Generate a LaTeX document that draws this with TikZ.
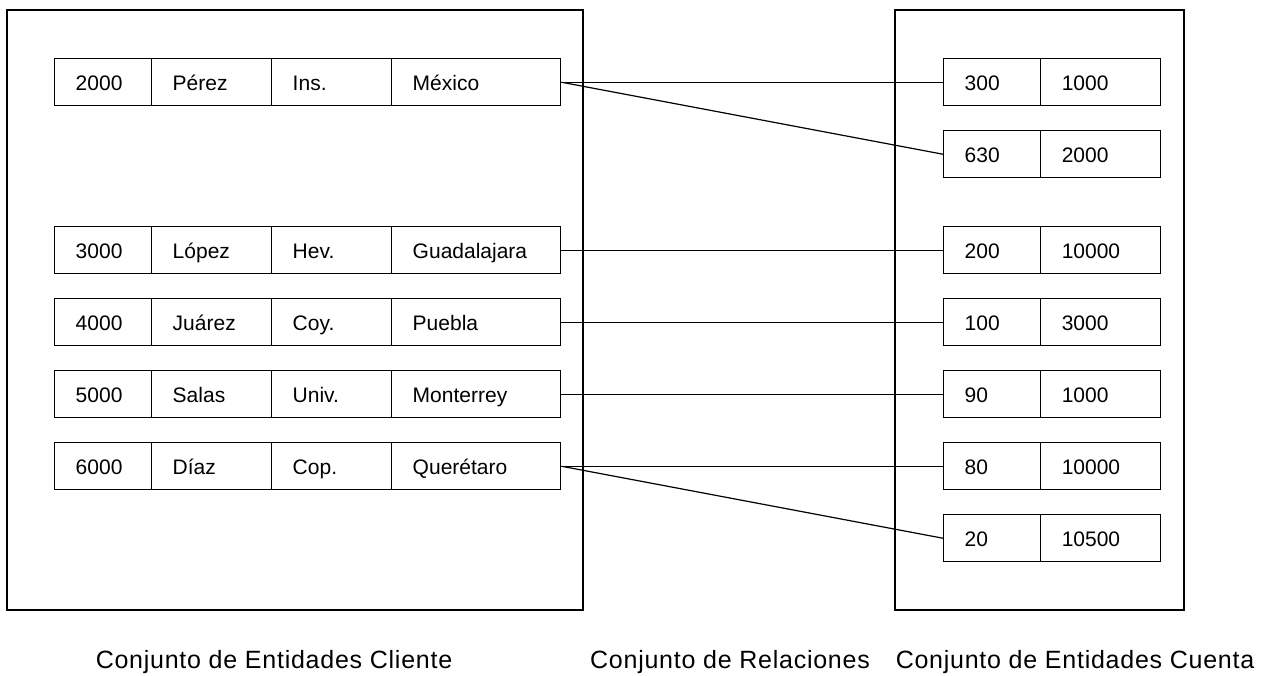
\documentclass[tikz,border=0pt]{standalone}
\usepackage{fontspec}
\setmainfont{Liberation Sans}
\newfontfamily\rotulofont[LetterSpace=3]{Liberation Sans}
\usetikzlibrary{positioning}

\begin{document}
\begin{tikzpicture}[x=0.75pt,y=-0.75pt,
  celda/.style={draw,line width=1.1pt,anchor=north west,minimum height=35.25pt,
    inner xsep=15.75pt,inner ysep=0pt,text height=12.75pt,text depth=0pt,align=left,
    font=\fontsize{15.75}{18}\selectfont},
  corta/.style={celda,text width=41.25pt},
  larga/.style={celda,text width=58.5pt},
  ciudad/.style={celda,text width=95.25pt},
  marco/.style={draw,line width=1.1pt},
  conector/.style={draw,line width=0.9pt},
  rotulo/.style={anchor=base,inner sep=0pt,font=\fontsize{18.75}{22}\rotulofont}]
  \useasboundingbox (0,0) rectangle (1262,675);
  % conjuntos de entidades
  \draw[marco] (7,10) rectangle (583,610);
  \draw[marco] (895,10) rectangle (1184,610);
  % clientes
  \foreach \fila/\y/\num/\nom/\dir/\ciu in {1/58/2000/Pérez/Ins./México,
      2/226/3000/López/Hev./Guadalajara, 3/298/4000/Juárez/Coy./Puebla,
      4/370/5000/Salas/Univ./Monterrey, 5/442/6000/Díaz/Cop./Querétaro} {
    \node[corta] (cli\fila-a) at (54,\y) {\num};
    \node[larga] (cli\fila-b) at (151,\y) {\nom};
    \node[larga] (cli\fila-c) at (271,\y) {\dir};
    \node[ciudad] (cli\fila-d) at (391,\y) {\ciu};
  }
  % cuentas
  \foreach \fila/\y/\num/\saldo in {1/58/300/1000, 2/130/630/2000, 3/226/200/10000,
      4/298/100/3000, 5/370/90/1000, 6/442/80/10000, 7/514/20/10500} {
    \node[corta] (cta\fila-a) at (943,\y) {\num};
    \node[larga] (cta\fila-b) at (1040,\y) {\saldo};
  }
  % relaciones
  \foreach \a/\b in {1/1, 1/2, 2/3, 3/4, 4/5, 5/6, 5/7}
    \draw[conector] (cli\a-d.east) -- (cta\b-a.west);
  % rotulos
  \node[rotulo] (rot-cli) at (274,668) {Conjunto de Entidades Cliente};
  \node[rotulo] (rot-rel) at (730,668) {Conjunto de Relaciones};
  \node[rotulo] (rot-cta) at (1075,668) {Conjunto de Entidades Cuenta};
\end{tikzpicture}
\end{document}
